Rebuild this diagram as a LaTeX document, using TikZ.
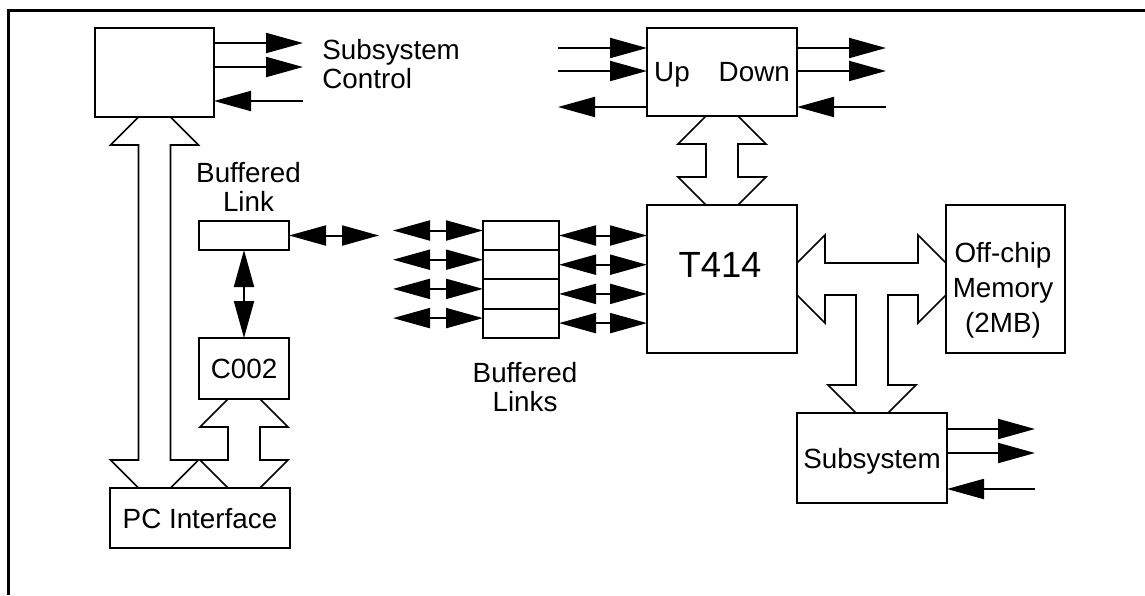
\documentclass[tikz,border=0pt]{standalone}
\usepackage{fontspec}
\setmainfont{Liberation Sans}
\usetikzlibrary{arrows.meta,calc,positioning}

\newcommand{\lbl}{\fontsize{13.9pt}{14.5pt}\selectfont}

% hollow bus arrow between two points (top and bottom)
\newcommand{\vbus}[2]{%
  \draw[bus] ($(#1)+(-16,0)$) -- ++(-28,28) -- ++(28,0) -- ($(#2)+(-16,-28)$)
    -- ++(-28,0) -- ++(28,28) -- ++(32,0) -- ++(28,-28) -- ++(-28,0)
    -- ($(#1)+(16,28)$) -- ++(28,0) -- ++(-28,-28) -- cycle;}

\tikzset{
  box/.style={draw, line width=1pt, inner sep=0pt, outer sep=0pt, text depth=0pt, font=\lbl},
  txt/.style={inner sep=0pt, font=\lbl, align=center},
  sig/.style={line width=1pt, -{Triangle[length=18.5pt,width=10pt]}},
  sigb/.style={line width=1pt, {Triangle[length=18.5pt,width=10pt]}-{Triangle[length=18.5pt,width=10pt]}},
  bus/.style={line width=0.8pt}
}

\begin{document}
\begin{tikzpicture}[x=0.5pt, y=-0.5pt]
    \useasboundingbox (0,0) rectangle (1145,595);
    % Frame
    \draw[line width=1.5pt] (8,595) -- (8,10) -- (1145,10);

    % Boxes
    \node[box, minimum width=59.5pt, minimum height=44.5pt] (sc) at (154.5,72.5) {};
    \node[box, minimum width=75pt, minimum height=44pt] (ud) at (722,72) {Up\hspace{14.5pt}Down};
    \node[box, minimum width=45pt, minimum height=14.5pt] (bl) at (244,235.5) {};
    \node[box, minimum width=45pt, minimum height=30.5pt] (c002) at (244,368.5) {C002};
    \node[box, minimum width=90pt, minimum height=30pt] (pci) at (200,518) {PC Interface};
    \foreach \i in {1,...,4}
        \node[box, minimum width=38pt, minimum height=14.6pt] (buf\i) at (521,206.3+29.2*\i) {};
    \node[box, minimum width=75pt, minimum height=74pt] (t414) at (722,279) {};
    \node[box, minimum width=59.5pt, minimum height=74pt] (mem) at (1005.5,279) {};
    \node[box, minimum width=75pt, minimum height=45pt] (sub) at (872,458) {Subsystem};

    % Texts
    \node[txt, anchor=base, font=\fontsize{18.2pt}{20pt}\selectfont] (t414txt) at (720,277) {T414};
    \node[txt, anchor=north] (memtxt) at (1003,242) {Off-chip\\[3pt]Memory\\[3pt](2MB)};
    \node[txt, anchor=north west, align=left] (sctxt) at (322,39) {Subsystem\\Control};
    \node[txt, anchor=north] (bltxt) at (248.5,162) {Buffered\\Link};
    \node[txt, anchor=north] (buftxt) at (525,362) {Buffered\\Links};

    % Subsystem control lines
    \draw[sig] ($(sc.north east)+(0,15)$) -- ++(89,0);
    \draw[sig] ($(sc.north east)+(0,39)$) -- ++(89,0);
    \draw[sig] ($(sc.north east)+(89,73)$) -- ($(sc.north east)+(0,73)$);

    % Up / Down lines
    \draw[sig] ($(ud.north west)+(-89,20)$) -- ($(ud.north west)+(0,20)$);
    \draw[sig] ($(ud.north west)+(-89,43)$) -- ($(ud.north west)+(0,43)$);
    \draw[sig] ($(ud.north west)+(0,79)$) -- ++(-89,0);
    \draw[sig] ($(ud.north east)+(0,20)$) -- ++(89,0);
    \draw[sig] ($(ud.north east)+(0,43)$) -- ++(89,0);
    \draw[sig] ($(ud.north east)+(89,79)$) -- ($(ud.north east)+(0,79)$);

    % Subsystem lines
    \draw[sig] ($(sub.north east)+(0,16)$) -- ++(88,0);
    \draw[sig] ($(sub.north east)+(0,40)$) -- ++(88,0);
    \draw[sig] ($(sub.north east)+(88,76)$) -- ($(sub.north east)+(0,76)$);

    % Links
    \draw[sigb] (bl.east) -- ++(90,0);
    \draw[sigb] (bl.south) -- (c002.north);
    \foreach \i in {1,...,4} {
        \draw[sigb] ($(buf\i.west)+(0,-5)$) -- ++(-90,0);
        \draw[sigb] (buf\i.east) -- (buf\i.east -| t414.west);
    }

    % Buses
    \coordinate (pcitop1) at (sc.south |- pci.north);
    \coordinate (pcitop2) at (c002.south |- pci.north);
    \vbus{sc.south}{pcitop1}
    \vbus{c002.south}{pcitop2}
    \vbus{ud.south}{t414.north}
    \draw[bus] ($(t414.east)+(0,-16)$) -- ++(28,-28) -- ++(0,28)
        -- ($(mem.west)+(-28,-16)$) -- ++(0,-28) -- ++(28,28) -- ++(0,32)
        -- ++(-28,28) -- ++(0,-28) -- ($(sub.north |- mem.west)+(16,16)$)
        -- ($(sub.north)+(16,-28)$) -- ++(28,0) -- ++(-28,28) -- ++(-32,0)
        -- ++(-28,-28) -- ++(28,0) -- ($(sub.north |- t414.east)+(-16,16)$)
        -- ($(t414.east)+(28,16)$) -- ++(0,28) -- ++(-28,-28) -- cycle;
\end{tikzpicture}
\end{document}
